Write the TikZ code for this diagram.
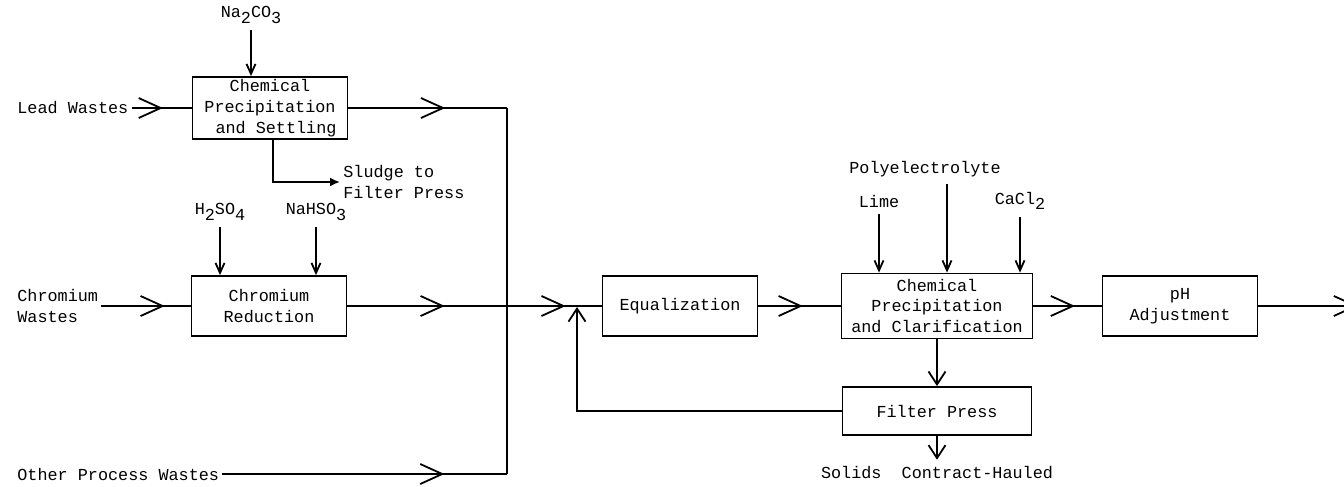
\documentclass[tikz,border=0pt]{standalone}
\usepackage{fontspec}
\newfontfamily\typefont{Liberation Mono}
\usetikzlibrary{arrows.meta,decorations.markings}
\newcommand{\chemsub}[1]{\raisebox{-0.6ex}{#1}}

\begin{document}
\begin{tikzpicture}[x=0.5pt,y=-0.5pt,
  every node/.style={font=\typefont\fontsize{8.4}{10.4}\selectfont},
  box/.style={draw, line width=0.9pt, align=center, inner sep=0pt,
    minimum width=77.5pt, minimum height=30pt},
  lbl/.style={inner sep=1.5pt, align=left},
  pipe/.style={line width=0.9pt},
  midflow/.style={pipe, postaction={decorate}, decoration={markings,
    mark=at position #1 with {\arrow{Straight Barb[length=11pt,width=10pt,line width=0.9pt]}}}},
  flow/.style={pipe, -{Straight Barb[length=11pt,width=10pt]}},
  drop/.style={pipe, -{Straight Barb[length=6.5pt,width=8.5pt]}},
  feed/.style={pipe, -{Straight Barb[length=5pt,width=4.5pt]}},
  sludgeflow/.style={pipe, -{Latex[length=5pt,width=4.5pt]}}]
\useasboundingbox (0,0) rectangle (1344,487);

% lead line
\node (na) at (251,15) {Na\chemsub{2}CO\chemsub{3}};
\node[box, minimum height=31pt] (cps) at (270,108) {Chemical\\Precipitation\\\hspace*{6pt}and Settling};
\node[lbl, anchor=west] (lead) at (14,108) {Lead Wastes};
\node[lbl, anchor=west] (sl) at (340,182) {Sludge to\\Filter Press};

% chromium line
\node (h2) at (220,212) {H\chemsub{2}SO\chemsub{4}};
\node (nah) at (316,212) {NaHSO\chemsub{3}};
\node[box] (cr) at (269,306) {Chromium\\Reduction};
\node[lbl, anchor=west] (crw) at (14,306) {Chromium\\Wastes};
\node[lbl, anchor=west] (oth) at (14,474) {Other Process Wastes};
\coordinate (j1) at (507,108);
\coordinate (j2) at (507,306);
\coordinate (j3) at (507,474);

% common treatment
\node[box] (eq) at (680,306) {Equalization};
\node[box, minimum width=95.5pt, minimum height=32.5pt] (cpc) at (937,306) {Chemical\\Precipitation\\and Clarification};
\node (poly) at (925,169) {Polyelectrolyte};
\node (lime) at (879,201) {Lime};
\node (cacl) at (1020,201) {CaCl\chemsub{2}};
\node[box] (ph) at (1180,306) {pH\\Adjustment};
\coordinate (out) at (1358,306);
\node[box, minimum width=94.5pt, minimum height=24pt] (fp) at (937,411) {Filter Press};
\coordinate (fb) at (577,307);
\node (sol) at (937,473) {Solids\ \ Contract-Hauled};

\draw[feed] (na) -- (na |- cps.north);
\draw[midflow=0.52] (lead) -- (cps);
\draw[midflow=0.61] (cps) -- (j1);
\draw[sludgeflow] ([xshift=1.5pt]cps.south) |- (sl.west);
\draw[feed] (h2) -- (h2 |- cr.north);
\draw[feed] (nah) -- (nah |- cr.north);
\draw[midflow=0.71] (crw) -- (cr);
\draw[midflow=0.61] (cr) -- (j2);
\draw[midflow=0.62] (j2) -- (eq);
\draw[midflow=0.78] (oth) -- (j3);
\draw[pipe] (j1) -- (j3);

\draw[midflow=0.54] (eq) -- (cpc);
\draw[feed] (lime) -- (lime |- cpc.north);
\draw[feed] ([xshift=11pt]poly.south) -- ([xshift=11pt]poly.south |- cpc.north);
\draw[feed] (cacl) -- (cacl |- cpc.north);
\draw[midflow=0.61] (cpc) -- (ph);
\draw[flow] (ph) -- (out);
\draw[drop] (cpc) -- (fp);
\draw[drop] (fp) -- (sol);
\draw[drop] (fp.west) -| (fb);
\end{tikzpicture}
\end{document}
